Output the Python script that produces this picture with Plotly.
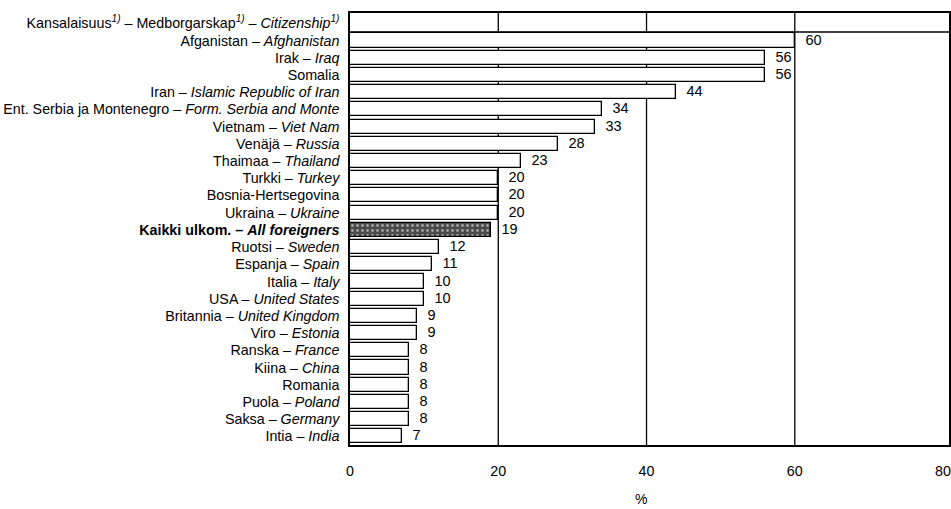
import plotly.graph_objects as go

# Citizenship rows (Finnish / English), top to bottom
labels_fi = [
    "Afganistan", "Irak", "Somalia", "Iran", "Ent. Serbia ja Montenegro",
    "Vietnam", "Venäjä", "Thaimaa", "Turkki", "Bosnia-Hertsegovina",
    "Ukraina", "Kaikki ulkom.", "Ruotsi", "Espanja", "Italia", "USA",
    "Britannia", "Viro", "Ranska", "Kiina", "Romania", "Puola", "Saksa", "Intia",
]
labels_en = [
    "Afghanistan", "Iraq", "", "Islamic Republic of Iran", "Form. Serbia and Monte",
    "Viet Nam", "Russia", "Thailand", "Turkey", "",
    "Ukraine", "All foreigners", "Sweden", "Spain", "Italy", "United States",
    "United Kingdom", "Estonia", "France", "China", "", "Poland", "Germany", "India",
]
values = [60, 56, 56, 44, 34, 33, 28, 23, 20, 20, 20, 19, 12, 11, 10, 10, 9, 9, 8, 8, 8, 8, 8, 7]
header = "Kansalaisuus<sup><i>1)</i></sup> – Medborgarskap<sup><i>1)</i></sup> – <i>Citizenship</i><sup><i>1)</i></sup>"
x_ticks = [0, 20, 40, 60, 80]
total_label = "Kaikki ulkom."

FONT = "Liberation Sans, Arial, sans-serif"

ticktext = []
for fi, en in zip(labels_fi, labels_en):
    t = fi if not en else f"{fi} – <i>{en}</i>"
    if fi == total_label:
        t = f"<b>{t}</b>"
    ticktext.append(t)

cats = list(range(1, len(values) + 1))
colors = ["#4a4a4a" if fi == total_label else "white" for fi in labels_fi]

fig = go.Figure()
fig.add_trace(go.Bar(
    x=values,
    y=cats,
    orientation="h",
    width=0.82,
    marker=dict(color=colors, line=dict(color="black", width=1.3),
                pattern=dict(shape=["." if fi == total_label else "" for fi in labels_fi],
                             fgcolor="#bdbdbd", size=5, solidity=0.25)),
    text=values,
    texttemplate="  %{x}",
    textposition="outside",
    constraintext="none",
    textfont=dict(family=FONT, size=14.5, color="black"),
    cliponaxis=False,
))

# header row separator and gridlines
fig.add_shape(type="line", xref="paper", yref="y", x0=0, x1=1, y0=0.5, y1=0.5,
              line=dict(color="black", width=1.5))
for v in x_ticks[1:-1]:
    fig.add_shape(type="line", xref="x", yref="paper", x0=v, x1=v, y0=0, y1=1,
                  line=dict(color="black", width=1.3), layer="below")

fig.add_annotation(text="%", xref="paper", yref="paper", x=0.485, y=0, yshift=-64,
                   showarrow=False, font=dict(family=FONT, size=14, color="black"))

fig.update_layout(
    width=951, height=509,
    margin=dict(l=350, r=2, t=13, b=64),
    plot_bgcolor="white", paper_bgcolor="white",
    font=dict(family=FONT, size=14.3, color="black"),
    showlegend=False,
    bargap=0,
)
fig.update_xaxes(
    range=[0, 80.8], tickvals=x_ticks, showgrid=False, zeroline=False,
    showline=True, linecolor="black", linewidth=1.5, mirror=True,
    ticks="", ticklabelstandoff=12, automargin=False, ticklabeloverflow="allow",
)
fig.update_yaxes(
    range=[24.5, -0.6],
    tickvals=[0] + cats, ticktext=[header] + ticktext,
    showgrid=False, zeroline=False,
    showline=True, linecolor="black", linewidth=1.5, mirror=True,
    ticks="", ticklabelstandoff=6, automargin=False,
)

# drop the default page margin so the figure sits at the window's corner
fig.write_html("out.html", config={"displayModeBar": False},
               post_script="document.body.style.margin='0';")
